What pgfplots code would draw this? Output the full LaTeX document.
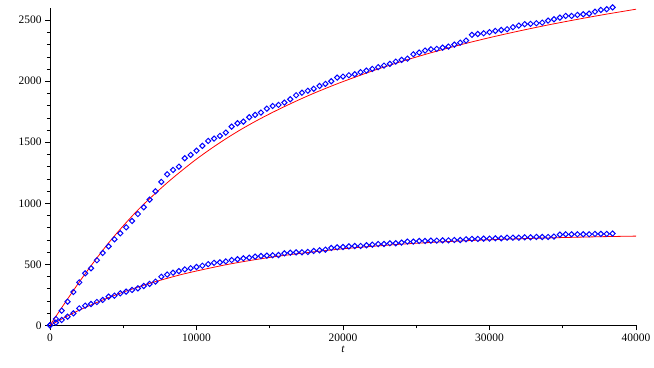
\documentclass[border=0pt]{standalone}
\usepackage{pgfplots}
\usepackage{pgfplotstable}
\usepackage{fontspec}
\pgfplotsset{compat=1.18}
\setmainfont{Liberation Serif}

% measured points, upper series
\pgfplotstableread{
t y
0 0
400 52
800 120
1200 194
1600 273
2000 352
2400 426
2800 467
3200 533
3600 593
4000 647
4400 705
4800 754
5200 803
5600 855
6000 912
6400 967
6800 1030
7200 1098
7600 1175
8000 1237
8400 1273
8800 1300
9200 1369
9600 1396
10000 1431
10400 1470
10800 1511
11200 1530
11600 1552
12000 1579
12400 1628
12800 1656
13200 1669
13600 1705
14000 1724
14400 1743
14800 1775
15200 1797
15600 1806
16000 1825
16400 1852
16800 1885
17200 1906
17600 1922
18000 1938
18400 1961
18800 1978
19200 2000
19600 2030
20000 2038
20400 2049
20800 2057
21200 2074
21600 2087
22000 2101
22400 2115
22800 2128
23200 2142
23600 2161
24000 2175
24400 2185
24800 2221
25200 2235
25600 2251
26000 2262
26400 2265
26800 2275
27200 2284
27600 2300
28000 2316
28400 2333
28800 2380
29200 2387
29600 2393
30000 2402
30400 2412
30800 2420
31200 2426
31600 2443
32000 2456
32400 2467
32800 2470
33200 2475
33600 2480
34000 2497
34400 2508
34800 2521
35200 2535
35600 2535
36000 2543
36400 2549
36800 2554
37200 2570
37600 2584
38000 2590
38400 2605
}\upperpts

% measured points, lower series
\pgfplotstableread{
t y
0 0
400 22
800 44
1200 71
1600 98
2000 139
2400 161
2800 175
3200 191
3600 208
4000 235
4400 243
4800 262
5200 276
5600 290
6000 303
6400 322
6800 339
7200 358
7600 398
8000 416
8400 431
8800 444
9200 458
9600 468
10000 478
10400 488
10800 501
11200 512
11600 516
12000 524
12400 535
12800 541
13200 549
13600 554
14000 563
14400 568
14800 571
15200 574
15600 576
16000 590
16400 595
16800 598
17200 598
17600 601
18000 609
18400 615
18800 620
19200 634
19600 639
20000 642
20400 647
20800 650
21200 650
21600 656
22000 661
22400 666
22800 666
23200 672
23600 672
24000 678
24400 686
24800 686
25200 691
25600 691
26000 694
26400 694
26800 696
27200 696
27600 699
28000 699
28400 705
28800 708
29200 708
29600 710
30000 710
30400 713
30800 713
31200 718
31600 718
32000 718
32400 721
32800 721
33200 724
33600 724
34000 724
34400 727
34800 743
35200 746
35600 746
36000 746
36400 746
36800 746
37200 749
37600 749
38000 749
38400 752
}\lowerpts

% fitted curves
\pgfplotstableread{
t y
0 0
1000 180
2000 355
3000 520
4000 675
5000 815
6000 945
7000 1060
8000 1168
9000 1268
10000 1362
11000 1448
12000 1528
13000 1602
14000 1670
15000 1733
16000 1792
17000 1848
18000 1901
19000 1950
20000 1997
22000 2084
24000 2162
26000 2233
28000 2298
30000 2357
32000 2411
34000 2461
36000 2507
38000 2550
40000 2590
}\upperfit

\pgfplotstableread{
t y
0 0
1000 64
2000 124
3000 177
4000 227
5000 272
6000 313
7000 351
8000 385
9000 417
10000 445
12000 496
14000 538
16000 573
18000 602
20000 627
22000 647
24000 665
26000 679
28000 691
30000 701
32000 709
34000 716
36000 722
38000 727
40000 731
}\lowerfit

\begin{document}
\begin{tikzpicture}
\begin{axis}[
    scale only axis,
    width=586bp, height=317.3bp,
    xmin=0, xmax=40000, ymin=0, ymax=2600,
    axis lines=left,
    axis line style={-, black, line width=0.6pt},
    clip=false,
    tick align=outside,
    major tick length=5pt,
    minor tick length=3pt,
    every tick/.style={black, line width=0.6pt},
    xtick={0,10000,20000,30000,40000},
    ytick={0,500,1000,1500,2000,2500},
    minor x tick num=1,
    minor y tick num=4,
    scaled ticks=false,
    /pgf/number format/assume math mode=true,
    /pgf/number format/set thousands separator={},
    tick label style={font=\fontsize{11.5}{12}\selectfont},
    xlabel={\textit{t}},
    xlabel style={font=\fontsize{11.5}{12}\selectfont, yshift=2pt},
]
\addplot[red, line width=0.8pt, smooth] table[x=t, y=y] {\upperfit};
\addplot[red, line width=0.8pt, smooth] table[x=t, y=y] {\lowerfit};
\addplot[only marks, mark=square, mark size=1.85pt,
    mark options={blue, line width=1pt, rotate=45}] table[x=t, y=y] {\upperpts};
\addplot[only marks, mark=square, mark size=1.85pt,
    mark options={blue, line width=1pt, rotate=45}] table[x=t, y=y] {\lowerpts};
\coordinate (bbsw) at (rel axis cs:-0.0853,-0.1314);
\coordinate (bbne) at (rel axis cs:1.0307,1.0252);
\end{axis}
\pgfresetboundingbox
\path[use as bounding box] (bbsw) rectangle (bbne);
\end{tikzpicture}
\end{document}
